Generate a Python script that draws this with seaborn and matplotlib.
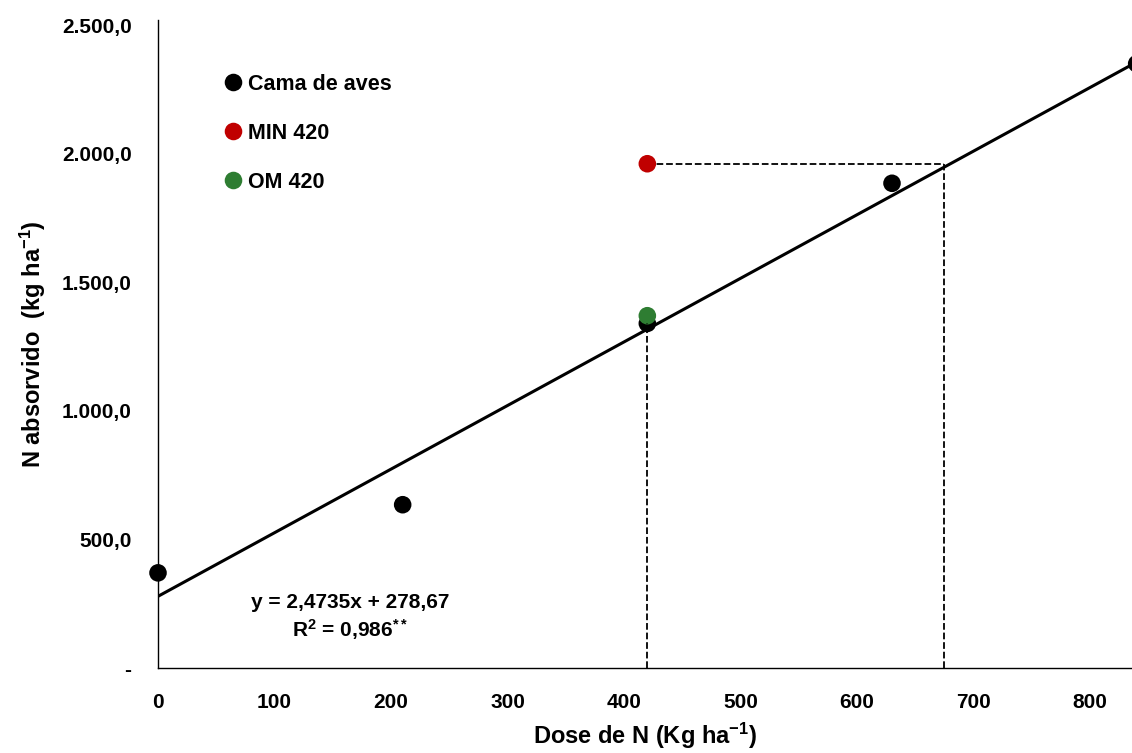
import numpy as np
import pandas as pd
import matplotlib
matplotlib.use('Agg')
import matplotlib.pyplot as plt
import seaborn as sns
from matplotlib.ticker import FuncFormatter

# Datos
dose = [0, 210, 420, 630, 840]
n_abs = [370, 635, 1340, 1885, 2350]
dose_min, n_min = 420, 1961
dose_om, n_om = 420, 1370
dose_equiv = 675
# ecuacion de la regresion
coef_a, coef_b = 2.4735, 278.67

sns.set_theme(style='white')
plt.rcParams['font.family'] = ['Liberation Sans', 'DejaVu Sans']
plt.rcParams['font.weight'] = 'bold'
plt.rcParams['text.color'] = 'black'
plt.rcParams['xtick.color'] = 'black'
plt.rcParams['ytick.color'] = 'black'
plt.rcParams['axes.labelcolor'] = 'black'
plt.rcParams['mathtext.fontset'] = 'custom'
plt.rcParams['mathtext.rm'] = 'Liberation Sans:bold'
plt.rcParams['mathtext.bf'] = 'Liberation Sans:bold'
plt.rcParams['mathtext.default'] = 'bf'

df = pd.DataFrame({
    'dose': dose + [dose_min, dose_om],
    'n': n_abs + [n_min, n_om],
    'grupo': ['Cama de aves'] * len(dose) + ['MIN 420', 'OM 420'],
})
paleta = {'Cama de aves': 'black', 'MIN 420': '#c00000', 'OM 420': '#2e7d32'}

fig = plt.figure(figsize=(11.32, 7.53), dpi=100)
ax = fig.add_axes([158 / 1132, 85 / 753, 974 / 1132, 648 / 753])

# linea de regresion
xl = np.array([0, 840])
ax.plot(xl, coef_a * xl + coef_b, color='black', lw=2.2, zorder=2)

# lineas punteadas
y420 = n_abs[dose.index(420)]
ax.plot([dose_min, dose_min], [0, y420], color='black', ls='--', lw=1.3, zorder=4)
ax.plot([dose_equiv, dose_equiv], [0, n_min], color='black', ls='--', lw=1.3, zorder=1)
ax.plot([dose_min, dose_equiv], [n_min, n_min], color='black', ls='--', lw=1.3, zorder=1)

sns.scatterplot(data=df, x='dose', y='n', hue='grupo', palette=paleta, s=160,
                edgecolor='none', ax=ax, zorder=3, clip_on=False)

ax.set_xlim(0, 836)
ax.set_ylim(0, 2520)
ax.set_xticks(np.arange(0, 900, 100))
ax.set_yticks(np.arange(0, 2501, 500))


def fmt_y(v, pos):
    if v == 0:
        return '-'
    return f'{v:,.1f}'.replace(',', 'X').replace('.', ',').replace('X', '.')


ax.yaxis.set_major_formatter(FuncFormatter(fmt_y))
ax.tick_params(axis='both', length=0, labelsize=15)
ax.tick_params(axis='y', pad=19)
ax.tick_params(axis='x', pad=18)
for lab in ax.get_xticklabels() + ax.get_yticklabels():
    lab.set_fontweight('bold')

for s in ['top', 'right']:
    ax.spines[s].set_visible(False)
for s in ['left', 'bottom']:
    ax.spines[s].set_color('black')
    ax.spines[s].set_linewidth(1.0)

ax.set_xlabel('Dose de N (Kg ha$^{-1}$)', fontsize=17, fontweight='bold', labelpad=6)
ax.set_ylabel('N absorvido  (kg ha$^{-1}$)', fontsize=17, fontweight='bold', labelpad=10)

ax.text(165, 253, 'y = 2,4735x + 278,67', ha='center', va='center', fontsize=15, fontweight='bold')
ax.text(165, 148, 'R$^{2}$ = 0,986$^{**}$', ha='center', va='center', fontsize=15, fontweight='bold')

leg = ax.legend(loc='upper left', bbox_to_anchor=(0.046, 0.93), frameon=False,
                fontsize=15.5, labelspacing=1.3, handletextpad=-0.3, markerscale=1.0,
                title=None, borderaxespad=0.0)
for t in leg.get_texts():
    t.set_fontweight('bold')

fig.savefig('out.png', dpi=100)
